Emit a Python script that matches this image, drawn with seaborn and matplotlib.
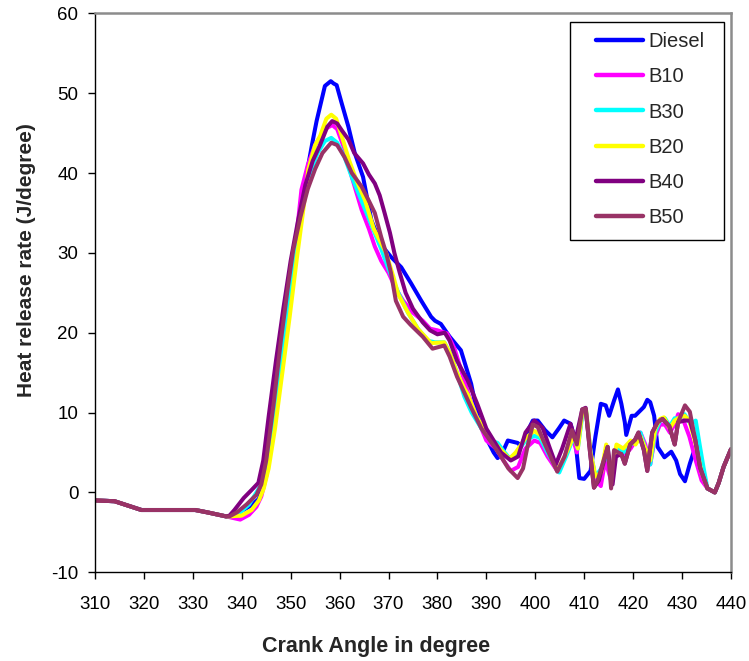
import numpy as np
import pandas as pd
import matplotlib
matplotlib.use("Agg")
import matplotlib.pyplot as plt
import matplotlib.patches as mpatches
import seaborn as sns

# ---------------- data ----------------
fuels = ["Diesel", "B10", "B30", "B20", "B40", "B50"]
colors = ["#0000FF", "#FF00FF", "#00FFFF", "#FFFF00", "#800080", "#993366"]

# shared motoring part before ignition
start_deg = [310, 314, 319.5, 330.5, 333, 336.8]
start_hrr = [-1.0, -1.1, -2.2, -2.2, -2.5, -3.0]

# shared final part
tail_deg = [435.2, 436.7, 437.5, 438.5, 440]
tail_hrr = [0.5, 0.0, 1.2, 3.2, 5.4]

diesel_deg = [337.5, 340, 342, 343.5, 344.5, 346, 347.3, 348.5, 350, 350.6, 352, 353, 354.5, 355.3,
              357, 358.2, 358.8, 359.4, 360.4, 361.8, 363.1, 364.8, 366.5, 368.5, 370.5, 372.6,
              374.6, 376.7, 378.7, 379.5, 380.7, 382.5, 384.8, 386.9, 388.3, 390, 391.5, 392.3,
              393.3, 394.4, 396.4, 397.1, 398.3, 399.5, 400.5, 402, 403.5, 404.8, 405.9, 407.2,
              408.2, 409, 410, 411.3, 412.3, 413.4, 414.4, 415.1, 416.1, 416.9, 417.6, 418.3,
              418.6, 419.7, 420.4, 422.2, 422.9, 423.5, 424.3, 425, 426.4, 427.8, 428.8, 429.6,
              430.6, 431.6, 432.4, 433.5]
diesel_hrr = [-3.0, -2.3, -1.6, -0.8, 1.5, 6.0, 11.5, 17.0, 24.0, 30.0, 35.0, 39.0, 44.0, 46.5,
              50.9, 51.5, 51.2, 51.0, 48.8, 45.8, 42.5, 39.5, 34.1, 31.0, 29.5, 28.2,
              26.2, 24.0, 22.0, 21.5, 21.1, 19.5, 17.8, 13.6, 9.4, 6.8, 5.0, 4.3,
              5.0, 6.5, 6.2, 5.8, 7.5, 9.0, 9.0, 7.8, 6.9, 8.0, 9.0, 8.6,
              6.5, 1.8, 1.7, 2.7, 7.0, 11.1, 10.9, 9.6, 11.5, 12.9, 11.1, 8.8,
              7.2, 9.6, 9.6, 10.7, 11.6, 11.3, 9.6, 5.7, 4.4, 5.1, 4.0, 2.3,
              1.4, 3.6, 5.1, 3.2]

b10_deg = [337.5, 339.7, 341.5, 343, 344, 345, 346.5, 348, 349.5, 351, 352.2, 353.5, 355, 357,
           358.5, 359.5, 361, 362.5, 364.5, 366, 367.2, 368.5, 370, 371.5, 373, 375, 377, 378.5,
           380, 382, 383.5, 385, 386.5, 388, 390, 392, 393.5, 395, 396.5, 398, 399.8, 401, 402.5,
           404.5, 406, 407.6, 408.5, 409.6, 410.3, 411.3, 412.3, 413.4, 414.3, 415.5, 416.5, 418,
           419.5, 420.5, 421.5, 422.5, 423.5, 424.5, 425.5, 426.5, 427.5, 428.5, 429.2, 430,
           431.5, 432.8, 434]
b10_hrr = [-3.1, -3.4, -2.8, -1.8, -0.5, 2.0, 8.0, 16.0, 23.0, 31.0, 37.9, 41.0, 43.5, 45.5,
           46.0, 45.5, 43.0, 39.5, 35.4, 33.0, 30.8, 29.0, 27.5, 25.5, 24.0, 22.5, 21.5, 20.5,
           20.3, 19.9, 18.0, 15.0, 12.0, 9.5, 6.5, 5.5, 4.0, 2.7, 3.2, 5.5, 6.5, 6.2, 4.5,
           2.7, 4.5, 7.0, 5.0, 10.0, 10.4, 5.0, 1.5, 0.8, 4.0, 1.5, 5.0, 4.5,
           5.5, 6.5, 7.5, 6.0, 3.5, 7.0, 8.5, 8.5, 7.5, 8.5, 9.8, 9.5,
           7.0, 4.0, 1.5]

b30_deg = [337.5, 339.5, 341.5, 343, 344, 345, 346.5, 348, 349.5, 351, 352.5, 354, 355.5, 357,
           358.3, 359.5, 361, 362.5, 364.5, 366.5, 368.5, 370, 372, 374, 376, 378, 379.5, 381.4,
           382.5, 384, 385.5, 387, 389, 391, 392.3, 393.5, 394.7, 396, 398, 399.8, 401, 402.5,
           404.9, 406.3, 407.9, 408.7, 409.7, 410.4, 411.3, 412.3, 413.5, 414.5, 415.7, 416.7,
           418, 419.5, 420.5, 421.5, 422.5, 423.5, 424.5, 425.5, 426.5, 427.5, 428.5, 429.5,
           430.5, 431.7, 432.8, 433.6, 434.4]
b30_hrr = [-3.0, -2.6, -1.5, 0.0, 1.0, 3.0, 9.5, 17.0, 24.0, 31.0, 36.0, 40.0, 42.5, 44.0,
           44.4, 43.8, 42.0, 39.5, 36.5, 33.5, 30.5, 28.0, 25.0, 22.5, 20.5, 19.0, 18.8, 18.8,
           17.5, 15.0, 12.0, 10.0, 8.0, 6.5, 6.2, 5.2, 4.3, 4.8, 6.5, 7.1, 6.8, 5.0,
           2.5, 4.5, 7.0, 5.5, 10.0, 10.2, 5.0, 2.0, 3.0, 5.0, 2.5, 5.5,
           5.0, 6.0, 6.5, 7.5, 5.5, 3.5, 7.5, 9.0, 9.3, 8.3, 9.3, 9.2,
           9.8, 8.6, 9.0, 6.0, 3.1]

b20_deg = [337.5, 340, 342, 343.5, 344.5, 345.5, 346.8, 348.3, 349.8, 351.2, 352.5, 353.6, 355,
           356, 357.3, 358.3, 359.3, 360.5, 362, 363.5, 365.2, 367, 369.5, 371, 372, 374, 376,
           378.7, 381.4, 382.5, 384, 385.5, 386.2, 388, 390, 392, 394.7, 396, 398, 399.8, 401,
           402.5, 404.5, 406, 407.9, 408.7, 409.6, 410.4, 411.3, 412.3, 413.5, 414.5, 415.6,
           416.6, 418, 419.5, 420.5, 421.5, 422.5, 423.5, 424.5, 425.5, 426.3, 427.5, 428.5,
           429.5, 430.5, 431.5, 432.8, 434]
b20_hrr = [-3.0, -2.9, -2.2, -1.0, 0.5, 3.0, 8.0, 15.0, 22.0, 29.0, 35.0, 40.4, 43.5,
           44.6, 46.8, 47.3, 46.8, 44.5, 41.5, 39.0, 36.6, 33.0, 30.0, 27.0, 24.8, 22.5, 20.5,
           18.7, 18.8, 17.5, 15.0, 13.0, 12.3, 9.5, 7.5, 6.0, 4.2, 5.0, 6.8, 7.7, 7.2,
           5.5, 2.7, 4.5, 7.1, 5.5, 10.0, 10.3, 5.0, 2.0, 2.5, 6.0, 2.5,
           6.0, 5.5, 6.5, 6.0, 7.0, 5.5, 4.0, 8.0, 9.2, 9.4, 8.0, 9.0,
           9.4, 9.6, 9.0, 6.0, 2.5]

b40_deg = [337.5, 338.5, 340.4, 342, 343.4, 344.4, 345.5, 347, 348.5, 350, 351.5, 353, 354.5,
           356, 357.5, 358.5, 359.5, 360.5, 361.8, 363, 364.8, 366, 367.2, 368.2, 369.2, 370.3,
           371.2, 372.3, 373.5, 375, 377, 378.5, 380, 381.5, 382.5, 384, 386.2, 388.2, 390,
           391.5, 393, 395, 396.5, 398, 399.8, 401.5, 403, 404.2, 405.5, 407.2, 408.2, 409.6,
           410.3, 411.2, 412, 413, 414.8, 415.8, 416.5, 417.6, 418.3, 419.4, 420.4, 421.1,
           422.2, 422.9, 423.9, 425, 426, 427.4, 428.5, 429.2, 430.6, 431.6, 432.7, 433.7]
b40_hrr = [-2.9, -2.2, -0.7, 0.3, 1.2, 4.0, 9.5, 16.5, 23.0, 29.0, 34.0, 38.5, 41.5,
           43.5, 45.8, 46.5, 46.2, 45.3, 44.2, 42.5, 41.2, 39.8, 38.7, 37.2, 35.0, 32.5,
           30.0, 27.5, 25.0, 23.0, 21.3, 20.3, 19.8, 20.0, 19.0, 16.5, 14.0, 11.0, 8.0,
           6.5, 5.0, 4.0, 4.5, 7.5, 9.0, 8.1, 5.5, 3.5, 5.5, 8.6, 6.5, 10.4,
           10.6, 5.0, 0.6, 1.5, 5.7, 1.0, 4.5, 4.8, 3.6, 6.0, 6.6, 7.5,
           5.3, 2.7, 7.5, 8.8, 9.2, 8.3, 6.0, 8.8, 9.0, 9.0, 6.6, 3.1]

b50_deg = [337.5, 339, 341, 343, 344, 345, 346.5, 348, 349.5, 350.5, 352, 353.5, 355, 356.5,
           358.3, 359.5, 361, 362.5, 364.5, 366, 367.2, 368.5, 369.5, 370.5, 371.5, 373, 374.5,
           377, 379, 381.4, 382.5, 384, 385.5, 387, 389, 391, 393, 394.5, 396.4, 397.5, 398.5,
           399.5, 400.5, 402, 404.5, 406, 407.5, 408.5, 409.6, 410.3, 411.2, 412, 412.7, 414.8,
           415.5, 416.1, 417.6, 418.3, 419.4, 420.4, 421.1, 422.2, 422.9, 423.9, 425, 426,
           427.4, 428.5, 429.2, 430.6, 431.6, 432.7, 433.7]
b50_hrr = [-3.0, -2.5, -1.5, -0.3, 1.0, 4.0, 11.0, 19.0, 26.0, 30.3, 34.5, 38.0, 40.5, 42.5,
           43.8, 43.5, 42.0, 40.0, 38.3, 36.5, 35.0, 32.0, 30.0, 27.5, 24.0, 22.0, 21.0,
           19.5, 18.0, 18.4, 17.0, 14.5, 12.5, 10.5, 8.0, 6.3, 4.5, 3.0, 1.8, 3.0, 6.0,
           8.5, 8.2, 6.0, 2.6, 4.5, 7.8, 6.0, 10.4, 10.5, 5.0, 0.6, 1.4, 5.7,
           0.5, 5.3, 4.8, 3.6, 6.0, 6.6, 7.5, 5.3, 2.7, 7.5, 8.8, 9.2,
           8.3, 6.0, 8.8, 10.9, 10.1, 6.6, 3.1]

x_ticks = list(range(310, 441, 10))
y_ticks = list(range(-10, 61, 10))

# ---------------- build long table ----------------
series = {
    "Diesel": (diesel_deg, diesel_hrr),
    "B10": (b10_deg, b10_hrr),
    "B30": (b30_deg, b30_hrr),
    "B20": (b20_deg, b20_hrr),
    "B40": (b40_deg, b40_hrr),
    "B50": (b50_deg, b50_hrr),
}
frames = []
for f in fuels:
    d, h = series[f]
    deg = list(start_deg) + list(d) + list(tail_deg)
    hrr = list(start_hrr) + list(h) + list(tail_hrr)
    frames.append(pd.DataFrame({"angle": deg, "hrr": hrr, "fuel": f}))
df = pd.concat(frames, ignore_index=True)

# ---------------- plot ----------------
sns.set_style("ticks")
plt.rcParams["font.family"] = ["Liberation Sans", "DejaVu Sans"]
plt.rcParams["axes.unicode_minus"] = False

fig = plt.figure(figsize=(7.49, 6.61), dpi=100)
ax = fig.add_axes([0.1268, 0.1342, 0.8491, 0.8457])

sns.lineplot(data=df, x="angle", y="hrr", hue="fuel", hue_order=fuels,
             palette=dict(zip(fuels, colors)), estimator=None, sort=True,
             linewidth=2.9, ax=ax)

ax.set_xlim(310, 440)
ax.set_ylim(-10, 60)
ax.set_xticks(x_ticks)
ax.set_yticks(y_ticks)
ax.tick_params(axis="both", direction="out", length=5, width=1, color="black",
               labelsize=13.5, labelcolor="black")
ax.yaxis.set_tick_params(pad=7)
ax.xaxis.set_tick_params(pad=12)

for s in ["left", "bottom"]:
    ax.spines[s].set_color("black")
    ax.spines[s].set_linewidth(1.0)
for s in ["top", "right"]:
    ax.spines[s].set_visible(True)
    ax.spines[s].set_color("#8c8c8c")
    ax.spines[s].set_linewidth(1.8)

ax.set_xlabel("Crank Angle in degree", fontsize=15.5, fontweight="bold")
ax.set_ylabel("Heat release rate (J/degree)", fontsize=15, fontweight="bold")
ax.xaxis.label.set_verticalalignment("center")
ax.xaxis.set_label_coords(0.4418, -0.1336)
ax.yaxis.label.set_verticalalignment("center")
ax.yaxis.label.set_horizontalalignment("center")
ax.yaxis.set_label_coords(-0.1069, 0.5587)

# legend: frame drawn as a box, entries placed inside it
frame = mpatches.Rectangle((0.7469, 0.5945), 0.989 - 0.7469, 0.9844 - 0.5945,
                           transform=ax.transAxes, facecolor="white",
                           edgecolor="black", linewidth=1.0, zorder=4.5)
ax.add_patch(frame)
leg = ax.legend(loc="upper left", bbox_to_anchor=(0.7877, 0.966), fontsize=14.5,
                frameon=False, labelspacing=0.80, handlelength=2.33,
                handletextpad=0.25, borderpad=0, borderaxespad=0)
leg.set_zorder(5)
for line in leg.get_lines():
    line.set_linewidth(3.2)

fig.savefig("out.png", dpi=100)
